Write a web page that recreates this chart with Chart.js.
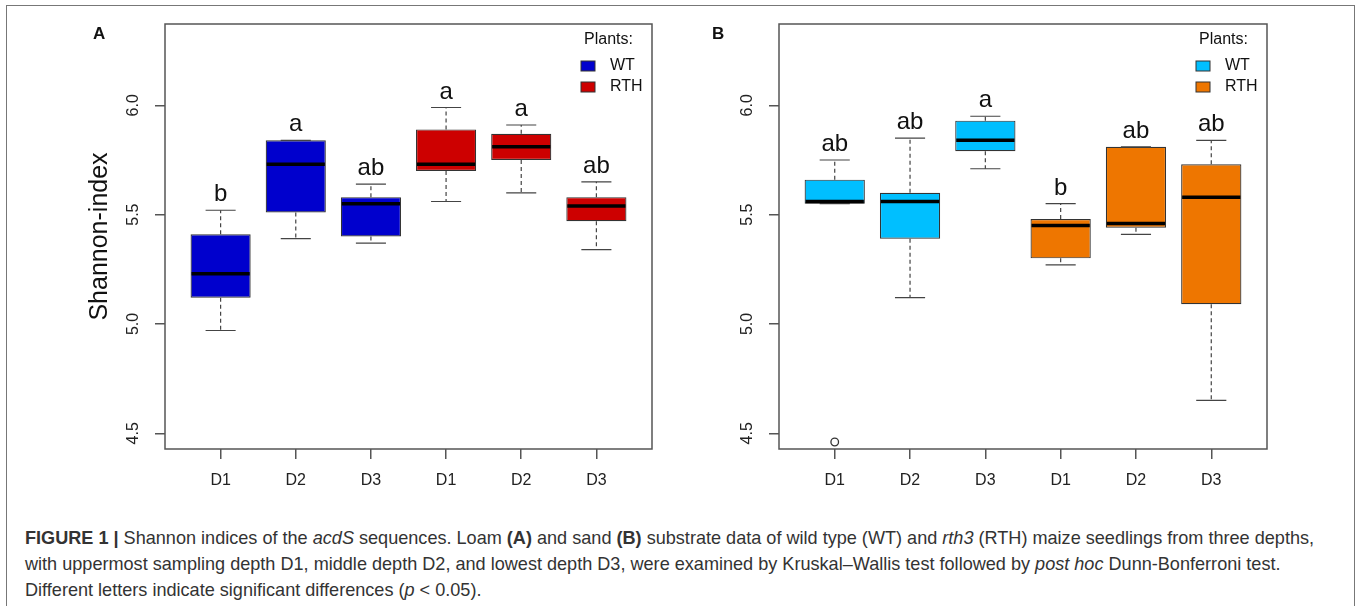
<!DOCTYPE html>
<html>
<head>
<meta charset="utf-8">
<title>Shannon indices of acdS sequences</title>
<script src="https://cdn.jsdelivr.net/npm/chart.js"></script>
<style>
  html, body { margin: 0; padding: 0; background: #fff; }
  body {
    width: 1357px; height: 606px; position: relative; overflow: hidden;
    font-family: "Liberation Sans", Arial, Helvetica, sans-serif;
  }
  .frame {
    position: absolute; left: 6px; top: 5px; width: 1347px; height: 640px;
    border: 1.5px solid #777; border-bottom: none;
  }
  .panel { position: absolute; top: 0; }
  .tag { position: absolute; top: 25px; font-size: 17px; line-height: 17px; font-weight: bold; color: #111; }
  .caption {
    position: absolute; left: 25px; top: 525px;
    font-size: 18.1px; line-height: 26px; color: #333; white-space: nowrap;
  }
</style>
</head>
<body>
<div class="frame"></div>

<div class="panel" style="left:0px;"><canvas id="loamChart" width="680" height="505"></canvas></div>
<div class="panel" style="left:680px;"><canvas id="sandChart" width="677" height="505"></canvas></div>

<div class="tag" style="left:93px;">A</div>
<div class="tag" style="left:712px;">B</div>

<div class="caption"><b>FIGURE 1 |</b> Shannon indices of the <i>acdS</i> sequences. Loam <b>(A)</b> and sand <b>(B)</b> substrate data of wild type (WT) and <i>rth3</i> (RTH) maize seedlings from three depths,<br>with uppermost sampling depth D1, middle depth D2, and lowest depth D3, were examined by Kruskal–Wallis test followed by <i>post hoc</i> Dunn-Bonferroni test.<br>Different letters indicate significant differences (<i>p</i> &lt; 0.05).</div>

<script>
// ---- data ----
const categories = ['D1', 'D2', 'D3', 'D1', 'D2', 'D3'];
const groups = ['WT', 'RTH'];
const legendTitle = 'Plants:';
const yTicks = [4.5, 5.0, 5.5, 6.0];
const yLimits = [4.5, 6.3];
const xLimits = [0.5, 6.5];

// A: loam
const loamMin     = [4.97, 5.39, 5.37, 5.56, 5.60, 5.34];
const loamQ1      = [5.12, 5.51, 5.40, 5.70, 5.75, 5.47];
const loamMedian  = [5.23, 5.73, 5.55, 5.73, 5.81, 5.54];
const loamQ3      = [5.41, 5.84, 5.58, 5.89, 5.87, 5.58];
const loamMax     = [5.52, 5.84, 5.64, 5.99, 5.91, 5.65];
const loamLetters = ['b', 'a', 'ab', 'a', 'a', 'ab'];

// B: sand
const sandMin     = [5.55, 5.12, 5.71, 5.27, 5.41, 4.65];
const sandQ1      = [5.55, 5.39, 5.79, 5.30, 5.44, 5.09];
const sandMedian  = [5.56, 5.56, 5.84, 5.45, 5.46, 5.58];
const sandQ3      = [5.66, 5.60, 5.93, 5.48, 5.81, 5.73];
const sandMax     = [5.75, 5.85, 5.95, 5.55, 5.81, 5.84];
const sandLetters = ['ab', 'ab', 'a', 'b', 'ab', 'ab'];
const sandOutlierPos = [1];
const sandOutlierVal = [4.46];

const FONT = '"Liberation Sans", Arial, Helvetica, sans-serif';

// R pads the axis range by 4% on each side
function padded(lim) {
    const ext = (lim[1] - lim[0]) * 0.04;
    return [lim[0] - ext, lim[1] + ext];
}

// whiskers, caps, medians and letters on top of the floating bars
const boxPlotPlugin = {
    id: 'boxPlot',
    afterDatasetsDraw(chart) {
        const ctx = chart.ctx;
        const yScale = chart.scales.y;
        chart.data.datasets.forEach((ds, di) => {
            if (!ds.stats) return;
            const meta = chart.getDatasetMeta(di);
            meta.data.forEach((bar, i) => {
                const half = bar.width / 2;
                const cap = bar.width / 4;
                const yMin = yScale.getPixelForValue(ds.stats.min[i]);
                const yMax = yScale.getPixelForValue(ds.stats.max[i]);
                const yQ1 = yScale.getPixelForValue(ds.data[i].y[0]);
                const yQ3 = yScale.getPixelForValue(ds.data[i].y[1]);
                const yMed = yScale.getPixelForValue(ds.stats.median[i]);

                ctx.save();
                ctx.strokeStyle = '#444';
                ctx.lineWidth = 1.2;
                ctx.setLineDash([4, 3]);
                ctx.beginPath();
                ctx.moveTo(bar.x, yQ3); ctx.lineTo(bar.x, yMax);
                ctx.moveTo(bar.x, yQ1); ctx.lineTo(bar.x, yMin);
                ctx.stroke();

                ctx.setLineDash([]);
                ctx.beginPath();
                ctx.moveTo(bar.x - cap, yMax); ctx.lineTo(bar.x + cap, yMax);
                ctx.moveTo(bar.x - cap, yMin); ctx.lineTo(bar.x + cap, yMin);
                ctx.stroke();

                ctx.strokeStyle = '#000';
                ctx.lineWidth = 3.5;
                ctx.beginPath();
                ctx.moveTo(bar.x - half + 1, yMed);
                ctx.lineTo(bar.x + half - 1, yMed);
                ctx.stroke();

                ctx.fillStyle = '#111';
                ctx.font = '24px ' + FONT;
                ctx.textAlign = 'center';
                ctx.textBaseline = 'alphabetic';
                ctx.fillText(ds.stats.letters[i], bar.x, yMax - 9);
                ctx.restore();
            });
        });
    }
};

// closed box around the plot region plus the in-plot legend
const frameLegendPlugin = {
    id: 'frameLegend',
    afterDraw(chart) {
        const ctx = chart.ctx;
        const {left, right, top, bottom} = chart.chartArea;
        ctx.save();
        ctx.strokeStyle = '#555';
        ctx.lineWidth = 1.5;
        ctx.strokeRect(left, top, right - left, bottom - top);

        ctx.font = '16px ' + FONT;
        ctx.textAlign = 'left';
        ctx.textBaseline = 'middle';
        ctx.fillStyle = '#111';
        ctx.fillText(legendTitle, right - 68, top + 16);
        const boxSets = chart.data.datasets.filter(d => d.stats);
        boxSets.forEach((ds, k) => {
            const cy = top + 42 + k * 21;
            ctx.fillStyle = ds.backgroundColor;
            ctx.fillRect(right - 71, cy - 5, 14, 10);
            ctx.strokeStyle = '#333';
            ctx.lineWidth = 1;
            ctx.strokeRect(right - 71, cy - 5, 14, 10);
            ctx.fillStyle = '#111';
            ctx.fillText(ds.label, right - 42, cy);
        });
        ctx.restore();
    }
};

function boxDataset(label, color, idx, q1, q3, med, min, max, letters) {
    return {
        label: label,
        data: idx.map(i => ({ x: i + 1, y: [q1[i], q3[i]] })),
        stats: {
            median: idx.map(i => med[i]),
            min: idx.map(i => min[i]),
            max: idx.map(i => max[i]),
            letters: idx.map(i => letters[i])
        },
        backgroundColor: color,
        borderColor: '#333',
        borderWidth: 1.2,
        borderSkipped: false,
        grouped: false,
        categoryPercentage: 0.8,
        barPercentage: 1.0
    };
}

function makeChart(canvasId, cfg) {
    const xr = padded(xLimits);
    const yr = padded(yLimits);
    const wtIdx = [0, 1, 2];
    const rthIdx = [3, 4, 5];
    const datasets = [
        boxDataset(groups[0], cfg.colors[0], wtIdx, cfg.q1, cfg.q3, cfg.median, cfg.min, cfg.max, cfg.letters),
        boxDataset(groups[1], cfg.colors[1], rthIdx, cfg.q1, cfg.q3, cfg.median, cfg.min, cfg.max, cfg.letters)
    ];
    if (cfg.outPos) {
        datasets.push({
            type: 'scatter',
            label: 'outlier',
            data: cfg.outPos.map((p, k) => ({ x: p, y: cfg.outVal[k] })),
            pointStyle: 'circle',
            pointRadius: 3.8,
            pointBackgroundColor: '#fff',
            pointBorderColor: '#333',
            pointBorderWidth: 1.3
        });
    }

    return new Chart(document.getElementById(canvasId), {
        type: 'bar',
        data: { datasets: datasets },
        options: {
            responsive: false,
            animation: false,
            devicePixelRatio: 1,
            layout: { padding: { left: 0, top: 24, right: cfg.padRight, bottom: 0 } },
            plugins: { legend: { display: false }, tooltip: { enabled: false } },
            scales: {
                x: {
                    type: 'linear',
                    min: xr[0],
                    max: xr[1],
                    offset: false,
                    afterBuildTicks: (s) => { s.ticks = categories.map((_, i) => ({ value: i + 1 })); },
                    afterFit: (s) => { s.height = 56; },
                    grid: { drawOnChartArea: false, offset: false, tickLength: 10, color: '#555', lineWidth: 1.5 },
                    border: { display: false },
                    ticks: {
                        autoSkip: false,
                        maxRotation: 0,
                        padding: 12,
                        color: '#222',
                        font: { family: FONT, size: 16 },
                        callback: (v) => categories[v - 1]
                    }
                },
                y: {
                    type: 'linear',
                    min: yr[0],
                    max: yr[1],
                    afterBuildTicks: (s) => { s.ticks = yTicks.map(v => ({ value: v })); },
                    afterFit: (s) => { s.width = cfg.axisWidth; },
                    grid: { drawOnChartArea: false, tickLength: 10, color: '#555', lineWidth: 1.5 },
                    border: { display: false },
                    title: {
                        display: !!cfg.yTitle,
                        text: cfg.yTitle || '',
                        color: '#111',
                        font: { family: FONT, size: 25 },
                        padding: { top: 85, bottom: 0 }
                    },
                    ticks: {
                        autoSkip: false,
                        minRotation: 90,
                        maxRotation: 90,
                        crossAlign: 'center',
                        padding: 10,
                        color: '#222',
                        font: { family: FONT, size: 16 },
                        callback: (v) => Number(v).toFixed(1)
                    }
                }
            }
        },
        plugins: [boxPlotPlugin, frameLegendPlugin]
    });
}

document.addEventListener('DOMContentLoaded', function() {
    makeChart('loamChart', {
        colors: ['#0000CD', '#CD0000'],
        q1: loamQ1, q3: loamQ3, median: loamMedian, min: loamMin, max: loamMax,
        letters: loamLetters,
        yTitle: 'Shannon-index',
        axisWidth: 165,
        padRight: 28
    });
    makeChart('sandChart', {
        colors: ['#00BFFF', '#EE7600'],
        q1: sandQ1, q3: sandQ3, median: sandMedian, min: sandMin, max: sandMax,
        letters: sandLetters,
        outPos: sandOutlierPos, outVal: sandOutlierVal,
        axisWidth: 99,
        padRight: 90
    });
});
</script>
</body>
</html>
